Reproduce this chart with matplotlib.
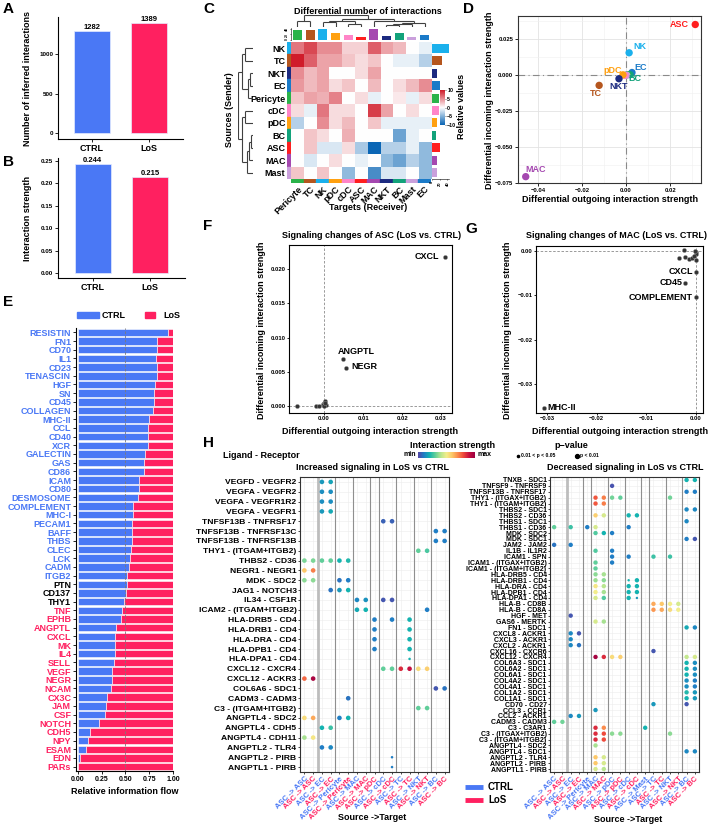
import numpy as np
import matplotlib
matplotlib.use("Agg")
import matplotlib.pyplot as plt
from matplotlib.colors import LinearSegmentedColormap
from matplotlib.patches import Rectangle

plt.rcParams['font.family'] = ['Liberation Sans', 'DejaVu Sans']
plt.rcParams['font.weight'] = 'bold'
plt.rcParams['axes.linewidth'] = 0.8

W, H = 708, 826
BLUE = '#4a78f5'
RED = '#ff2060'
MINUS = '\u2212'

# ---------------- data ----------------
groups = ['CTRL', 'LoS']
n_interactions = [1282, 1389]
strength = [0.244, 0.215]

src_types = ['NK', 'TC', 'NKT', 'EC', 'Pericyte', 'cDC', 'pDC', 'BC', 'ASC', 'MAC', 'Mast']
tgt_types = ['Pericyte', 'TC', 'NK', 'pDC', 'cDC', 'ASC', 'MAC', 'NKT', 'BC', 'Mast', 'EC']
diff_counts = [
    [6, 8, 5, 5, 2, 2, 7, 4, 3, 0, -1],
    [10, 7, 4, 4, 2.5, 1.5, 2.5, 0, -1, -1, -3],
    [5, 3, 4, 0, 0, 1.5, 4, 0, 0, 0, 0],
    [4.5, 3, 4, 1.5, 2.5, 0, 3, 0, 1.5, 3, 5],
    [2.5, 4, 3.5, 5.5, 0, 1.5, -1, 0, 1, -1, 1.5],
    [1.5, -1, 6, 1.5, 1.5, 0, 8.5, 4, 0, 1.5, 0],
    [-3, 0, 5, 1.5, 3, 0, 2.5, -1, -1, -1, -1],
    [0, 2.5, 1.5, 0, 3.5, 0, 0, 0, -6, -1, 0],
    [0, 2.5, -1.5, -1.5, 1.5, -3.5, -10, -3, -3, -1, -4.5],
    [0, -1.5, 0, 1.5, 0, -1, 0, -4.5, -6, -3, -4.5],
    [2.5, 0, 2.5, 0, -4.5, 0, -7.5, -1.5, -1.5, 0, -4.5],
]
col_sums = [34, 34, 37, 23, 16, 9, 40, 14, 23, 11, 18]
row_sums = [44, 27, 13, 20, 17, 19, 14, 11, 20, 13, 14]
cell_colors = {'NK': '#1ab0ec', 'TC': '#b5561e', 'NKT': '#1c2a80', 'EC': '#1a7ac8',
               'Pericyte': '#2ab34a', 'cDC': '#ff85c8', 'pDC': '#ffa010', 'BC': '#12a27a',
               'ASC': '#ff1f1f', 'MAC': '#a548b0', 'Mast': '#caa0dc'}
row_tree = ((('NK', 'TC', 0.55), (('NKT', 'EC', 0.2), 'Pericyte', 0.32), 0.75),
            (('cDC', 'pDC', 0.55), ((('BC', 'ASC', 0.15), 'MAC', 0.25), 'Mast', 0.38), 0.72), 1.0)
col_tree = (('Pericyte', 'TC', 0.5),
            ((('NK', 'pDC', 0.4), ('cDC', 'ASC', 0.3), 0.55),
             ('MAC', ((('NKT', 'BC', 0.15), 'Mast', 0.25), 'EC', 0.38), 0.5), 0.68), 1.0)

d_names = ['ASC', 'NK', 'EC', 'BC', 'Pericyte', 'Mast', 'cDC', 'pDC', 'NKT', 'TC', 'MAC']
d_out = [0.0314, 0.0014, 0.0027, 0.0018, 0.0006, 0.0003, -0.0005, -0.0014, -0.0032, -0.0122, -0.0455]
d_in = [0.0349, 0.0153, 0.0016, 0.0002, 0.0001, -0.0002, -0.0004, 0.0, -0.0027, -0.0073, -0.0706]
d_labeled = ['ASC', 'NK', 'EC', 'BC', 'pDC', 'NKT', 'TC', 'MAC']

flow_names = ['RESISTIN', 'FN1', 'CD70', 'IL1', 'CD23', 'TENASCIN', 'HGF', 'SN', 'CD45', 'COLLAGEN',
              'MHC-II', 'CCL', 'CD40', 'XCR', 'GALECTIN', 'GAS', 'CD86', 'ICAM', 'CD80', 'DESMOSOME',
              'COMPLEMENT', 'MHC-I', 'PECAM1', 'BAFF', 'THBS', 'CLEC', 'LCK', 'CADM', 'ITGB2', 'PTN',
              'CD137', 'THY1', 'TNF', 'EPHB', 'ANGPTL', 'CXCL', 'MK', 'IL4', 'SELL', 'VEGF',
              'NEGR', 'NCAM', 'CX3C', 'JAM', 'CSF', 'NOTCH', 'CDH5', 'NPY', 'ESAM', 'EDN', 'PARs']
flow_ctrl = [0.946, 0.83, 0.83, 0.82, 0.83, 0.83, 0.81, 0.80, 0.80, 0.79,
             0.75, 0.74, 0.74, 0.74, 0.71, 0.70, 0.70, 0.64, 0.64, 0.63,
             0.58, 0.58, 0.57, 0.57, 0.57, 0.556, 0.545, 0.534, 0.52, 0.516,
             0.505, 0.487, 0.46, 0.45, 0.40, 0.39, 0.39, 0.39, 0.38, 0.354,
             0.354, 0.347, 0.31, 0.30, 0.28, 0.22, 0.126, 0.105, 0.083, 0.02, 0.0]
flow_group = ['CTRL'] * 29 + ['none'] * 3 + ['LoS'] * 19

asc_names = ['CXCL', 'ANGPTL', 'NEGR']
asc_out = [0.0309, 0.0049, 0.0056]
asc_in = [0.0218, 0.0069, 0.0056]
asc_rest_out = [-0.0069, -0.002, -0.0013, -0.0004, 0.0, 0.0002, 0.0004, -0.0002, 0.0001, 0.0003]
asc_rest_in = [0.0, 0.0, 0.0, 0.0003, 0.0005, 0.0007, 0.0002, 0.0001, 0.0, 0.0004]

mac_names = ['CXCL', 'CD45', 'COMPLEMENT', 'MHC-II']
mac_out = [0.0, -0.0022, 0.0, -0.0306]
mac_in = [-0.0047, -0.0072, -0.0103, -0.0353]
mac_rest_out = [-0.0025, -0.0035, -0.0022, -0.0015, -0.0008, 0.0, 0.0, -0.0003, 0.0, -0.0005]
mac_rest_in = [0.0002, -0.0015, -0.0013, -0.0018, -0.0016, -0.0003, -0.0007, -0.0001, -0.002, -0.0012]

inc_targets = ['ASC', 'ASC', 'EC', 'EC', 'Pericyte', 'Pericyte', 'MAC', 'MAC', 'pDC',
               'cDC', 'cDC', 'TC', 'TC', 'NKT', 'NKT', 'BC', 'BC']
inc_sets = ['CTRL', 'LoS', 'CTRL', 'LoS', 'CTRL', 'LoS', 'CTRL', 'LoS', 'LoS',
            'CTRL', 'LoS', 'CTRL', 'LoS', 'CTRL', 'LoS', 'CTRL', 'LoS']
inc_pairs = ['VEGFD - VEGFR2', 'VEGFA - VEGFR2', 'VEGFA - VEGFR1R2', 'VEGFA - VEGFR1',
             'TNFSF13B - TNFRSF17', 'TNFSF13B - TNFRSF13C', 'TNFSF13B - TNFRSF13B',
             'THY1 - (ITGAM+ITGB2)', 'THBS2 - CD36', 'NEGR1 - NEGR1', 'MDK - SDC2', 'JAG1 - NOTCH3',
             'IL34 - CSF1R', 'ICAM2 - (ITGAM+ITGB2)', 'HLA-DRB5 - CD4', 'HLA-DRB1 - CD4',
             'HLA-DRA - CD4', 'HLA-DPB1 - CD4', 'HLA-DPA1 - CD4', 'CXCL12 - CXCR4',
             'CXCL12 - ACKR3', 'COL6A6 - SDC1', 'CADM3 - CADM3', 'C3 - (ITGAM+ITGB2)',
             'ANGPTL4 - SDC2', 'ANGPTL4 - CDH5', 'ANGPTL4 - CDH11', 'ANGPTL2 - TLR4',
             'ANGPTL2 - PIRB', 'ANGPTL1 - PIRB']
# (column, scaled strength) per ligand-receptor pair
inc_dots = [
    [(3, .15), (4, .17)], [(3, .13), (4, .13)], [(3, .13), (4, .13)], [(3, .15), (4, .18)],
    [(10, .05), (11, .05)], [(16, .1), (17, .1)], [(16, .1), (17, .1)], [(14, .3), (15, .27)],
    [(1, .33), (2, .33), (3, .3), (4, .3), (5, .2), (6, .22)], [(1, .6), (2, .72)],
    [(1, .35), (2, .35), (5, .08), (6, .1)], [(4, .08), (5, .15), (6, .2)],
    [(7, .12), (8, .14), (10, .03), (11, .03)], [(7, .18), (8, .2), (15, .1)],
    [(9, .1), (11, .1), (13, .2)], [(9, .1), (13, .2)], [(9, .1), (13, .2)], [(9, .1), (13, .2)],
    [(13, .2)], [(10, .3), (11, .3), (12, .85), (13, .9), (14, .55), (15, .58)],
    [(1, .75), (2, .97)], [(16, .03), (17, .08)], [(6, .08)], [(14, .3), (15, .3)],
    [(1, .55), (2, .65), (5, .1), (6, .2)], [(3, .2), (4, .25)], [(1, .38), (2, .52)],
    [(3, .1), (4, .12)], [(11, .1)], [(11, .1)]]
inc_small = [('HLA-DPA1 - CD4', 13), ('ANGPTL2 - PIRB', 11), ('ANGPTL1 - PIRB', 11)]

dec_targets = ['ASC', 'ASC', 'EC', 'EC', 'Pericyte', 'MAC', 'MAC', 'pDC', 'pDC',
               'cDC', 'cDC', 'Mast', 'TC', 'TC', 'NKT', 'NKT', 'BC', 'BC']
dec_sets = ['CTRL', 'LoS', 'CTRL', 'LoS', 'CTRL', 'CTRL', 'LoS', 'CTRL', 'LoS',
            'CTRL', 'LoS', 'CTRL', 'CTRL', 'LoS', 'CTRL', 'LoS', 'CTRL', 'LoS']
dec_pairs = ['TNXB - SDC1', 'TNFSF9 - TNFRSF9', 'TNFSF13B - TNFRSF17', 'THY1 - (ITGAX+ITGB2)',
             'THY1 - (ITGAM+ITGB2)', 'THBS2 - SDC1', 'THBS2 - CD36', 'THBS1 - SDC1', 'THBS1 - CD36',
             'MDK - SDC2', 'MDK - SDC1', 'JAM2 - JAM2', 'IL1B - IL1R2', 'ICAM1 - SPN',
             'ICAM1 - (ITGAX+ITGB2)', 'ICAM1 - (ITGAM+ITGB2)', 'HLA-DRB5 - CD4', 'HLA-DRB1 - CD4',
             'HLA-DRA - CD4', 'HLA-DPB1 - CD4', 'HLA-DPA1 - CD4', 'HLA-B - CD8B', 'HLA-B - CD8A',
             'HGF - MET', 'GAS6 - MERTK', 'FN1 - SDC1', 'CXCL8 - ACKR1', 'CXCL3 - ACKR1',
             'CXCL2 - ACKR1', 'CXCL16 - CXCR6', 'CXCL12 - CXCR4', 'COL6A3 - SDC1', 'COL6A2 - SDC1',
             'COL6A1 - SDC1', 'COL4A2 - SDC1', 'COL4A1 - SDC1', 'COL1A2 - SDC1', 'COL1A1 - SDC1',
             'CD70 - CD27', 'CCL3 - CCR1', 'CCL2 - ACKR1', 'CADM3 - CADM3', 'C3 - C3AR1',
             'C3 - (ITGAX+ITGB2)', 'C3 - (ITGAM+ITGB2)', 'ANGPTL4 - SDC2', 'ANGPTL4 - SDC1',
             'ANGPTL2 - TLR4', 'ANGPTL2 - PIRB', 'ANGPTL1 - PIRB']
dec_dots = [
    [(17, .2), (18, .2)], [(8, .02)], [(17, .1), (18, .1)],
    [(6, .78), (7, .72), (8, .32), (9, .3), (15, .32)], [(6, .78), (7, .72)],
    [(17, .12), (18, .12)], [(6, .58), (7, .45), (10, .2), (11, .2)], [(17, .12)],
    [(1, .3), (3, .25), (5, .1), (6, .45), (10, .1)], [(6, .28), (7, .2), (8, .1)],
    [(17, .1), (18, .03)], [(1, .08), (3, .1)], [(6, .28), (8, .1)],
    [(8, .1), (10, .1), (13, .25), (15, .25)], [(6, .3), (8, .1)], [(6, .3)],
    [(6, .35), (7, .38)], [(6, .37), (7, .35), (10, .2), (11, .2)],
    [(6, .52), (7, .4), (10, .2), (11, .2)], [(6, .5), (7, .38), (10, .2), (11, .2)],
    [(6, .45), (7, .28), (10, .2), (11, .15)], [(13, .65), (14, .6), (15, .5), (16, .45)],
    [(13, .68), (14, .65), (15, .55), (16, .5)], [(3, .03)], [(6, .45), (7, .38)],
    [(17, .18), (18, .12)], [(3, .12), (4, .03)], [(3, .12)], [(3, .12), (4, .08)], [(13, .03)],
    [(6, .98), (7, .85), (8, .55), (9, .58), (17, .42), (18, .45)],
    [(17, .2), (18, .13)], [(17, .2), (18, .13)], [(17, .2), (18, .13)], [(17, .13), (18, .1)],
    [(17, .13), (18, .1)], [(17, .22), (18, .15)], [(17, .2), (18, .15)], [(13, .15), (17, .03)],
    [(6, .15)], [(3, .12), (4, .15)], [(1, .3), (2, .32)], [(6, .85), (7, .7), (12, .2)],
    [(6, .85), (7, .8), (8, .35), (9, .35), (15, .35)], [(6, .85), (7, .8)], [(6, .38)],
    [(17, .12), (18, .12)], [(6, .6), (7, .45)], [(6, .6), (7, .45)], [(6, .45), (7, .4)]]
dec_small = [('HLA-DRB1 - CD4', 10), ('HLA-DPA1 - CD4', 11)]

# ---------------- helpers ----------------
fig = plt.figure(figsize=(W / 100, H / 100), dpi=100)


def add_ax(l, t, r, b, **kw):
    return fig.add_axes([l / W, 1 - b / H, (r - l) / W, (b - t) / H], **kw)


ov = fig.add_axes([0, 0, 1, 1], zorder=20)
ov.set_xlim(0, W)
ov.set_ylim(H, 0)
ov.axis('off')
ov.patch.set_alpha(0)


def txt(x, y, s, **kw):
    kw.setdefault('ha', 'center')
    kw.setdefault('va', 'center')
    kw.setdefault('fontsize', 6.5)
    kw.setdefault('fontweight', 'bold')
    ov.text(x, y, s, **kw)


def style_ticks(ax, size=4.5):
    ax.tick_params(length=2, width=0.6, labelsize=size, pad=1.5)


for lab, x, y in [('A', 3, 2), ('B', 3, 155), ('C', 203, 2), ('D', 463, 2),
                  ('E', 3, 295), ('F', 203, 219), ('G', 465, 222), ('H', 203, 436)]:
    txt(x, y, lab, fontsize=11, ha='left', va='top')

# ---------------- A / B ----------------
for ax_box, vals, lim, ticks, fmt, ylab, yc in [
        ((58, 17, 183, 139), n_interactions, (-70, 1460), [0, 500, 1000], '{:d}',
         'Number of inferred interactions', 78),
        ((58, 158, 185, 278), strength, (-0.011, 0.2567), [0, .05, .1, .15, .2, .25], '{:.3f}',
         'Interaction strength', 218)]:
    ax = add_ax(*ax_box)
    ax.bar([1, 2], vals, width=0.62, color=[BLUE, RED], edgecolor='#e4ebff', lw=0.5)
    ax.set_xlim(0.4, 2.6)
    ax.set_ylim(*lim)
    ax.set_yticks(ticks)
    if fmt == '{:d}':
        ax.set_yticklabels([str(t) for t in ticks])
        for i, v in enumerate(vals):
            ax.text(i + 1, v, str(v), ha='center', va='bottom', fontsize=5.5)
    else:
        ax.set_yticklabels(['%.2f' % t for t in ticks])
        for i, v in enumerate(vals):
            ax.text(i + 1, v, '%.3f' % v, ha='center', va='bottom', fontsize=5.5)
    ax.set_xticks([1, 2])
    ax.set_xticklabels(groups, fontsize=6.5)
    for s in ['top', 'right']:
        ax.spines[s].set_visible(False)
    style_ticks(ax)
    ax.tick_params(axis='x', labelsize=6.5)
    txt(28, yc, ylab, rotation=90)

# ---------------- C ----------------
cmapC = LinearSegmentedColormap.from_list('rb', ['#0b66b5', '#ffffff', '#d01c2a'])
axC = add_ax(291, 42, 431, 179)
axC.imshow(np.array(diff_counts), cmap=cmapC, vmin=-10, vmax=10, aspect='auto')
axC.set_xticks(range(len(tgt_types)))
axC.set_xticklabels(tgt_types, rotation=45, ha='right', rotation_mode='anchor', fontsize=6.5)
axC.set_yticks(range(len(src_types)))
axC.set_yticklabels(src_types, fontsize=6.5)
axC.tick_params(length=0, pad=4)
for s in axC.spines.values():
    s.set_visible(False)

axRS = add_ax(287, 42, 291, 179)
for i, n in enumerate(src_types):
    axRS.add_patch(Rectangle((0, i - 0.5), 1, 1, color=cell_colors[n]))
axRS.set_xlim(0, 1)
axRS.set_ylim(10.5, -0.5)
axRS.axis('off')
axCS = add_ax(291, 179, 431, 183)
for i, n in enumerate(tgt_types):
    axCS.add_patch(Rectangle((i - 0.5, 0), 1, 1, color=cell_colors[n]))
axCS.set_xlim(-0.5, 10.5)
axCS.set_ylim(0, 1)
axCS.axis('off')

axTop = add_ax(291, 28, 431, 40)
axTop.bar(range(len(tgt_types)), col_sums, width=0.72, color=[cell_colors[n] for n in tgt_types])
axTop.set_xlim(-0.5, 10.5)
axTop.set_ylim(0, 42)
axTop.set_xticks([])
axTop.set_yticks([0, 20, 40])
axTop.tick_params(axis='y', labelsize=2.5, length=1, width=0.4, pad=0.5, labelrotation=90)
for s in ['top', 'right', 'bottom']:
    axTop.spines[s].set_visible(False)
axTop.spines['left'].set_linewidth(0.4)

axRB = add_ax(432, 42, 449, 179)
axRB.barh(range(len(src_types)), row_sums, height=0.72, color=[cell_colors[n] for n in src_types])
axRB.set_ylim(10.5, -0.5)
axRB.set_xlim(0, 44)
axRB.set_yticks([])
axRB.set_xticks([0, 20, 40])
axRB.tick_params(axis='x', labelsize=3, length=1, width=0.4, pad=0.5, labelrotation=90)
for s in ['top', 'right', 'left']:
    axRB.spines[s].set_visible(False)
axRB.spines['bottom'].set_linewidth(0.4)


def draw_tree(ax, node, pos, horizontal):
    if isinstance(node, str):
        return pos[node], 0.0
    a, b, h = node
    pa, ha_ = draw_tree(ax, a, pos, horizontal)
    pb, hb = draw_tree(ax, b, pos, horizontal)
    for p0, h0, p1, h1 in [(pa, ha_, pa, h), (pb, hb, pb, h), (pa, h, pb, h)]:
        if horizontal:
            ax.plot([h0, h1], [p0, p1], color='#404040', lw=0.8, solid_capstyle='butt')
        else:
            ax.plot([p0, p1], [h0, h1], color='#404040', lw=0.8, solid_capstyle='butt')
    return (pa + pb) / 2, h


axRD = add_ax(238, 42, 253, 179)
draw_tree(axRD, row_tree, {n: i for i, n in enumerate(src_types)}, True)
axRD.set_xlim(1.02, 0)
axRD.set_ylim(10.5, -0.5)
axRD.axis('off')
axCD = add_ax(291, 15, 431, 27)
draw_tree(axCD, col_tree, {n: i for i, n in enumerate(tgt_types)}, False)
axCD.set_xlim(-0.5, 10.5)
axCD.set_ylim(0, 1.03)
axCD.axis('off')

axCb = add_ax(440, 90, 445, 125)
axCb.imshow(np.linspace(10, -10, 100)[:, None], cmap=cmapC, vmin=-10, vmax=10,
            aspect='auto', extent=[0, 1, -10, 10])
axCb.set_xticks([])
axCb.yaxis.tick_right()
axCb.set_yticks([10, 5, 0, -5, -10])
axCb.set_yticklabels(['10', '5', '0', MINUS + '5', MINUS + '10'])
axCb.tick_params(axis='y', labelsize=3.8, length=1, width=0.4, pad=0.6)
for s in axCb.spines.values():
    s.set_visible(False)
txt(461, 106, 'Relative values', rotation=90)
txt(368, 11, 'Differential number of interactions')
txt(229, 110, 'Sources (Sender)', rotation=90)
txt(368, 208, 'Targets (Receiver)')

# ---------------- D ----------------
axD = add_ax(518, 16, 701, 183)
axD.set_xlim(-0.049, 0.034)
axD.set_ylim(-0.0737, 0.0408)
axD.set_xticks([-0.04, -0.02, 0, 0.02])
axD.set_xticklabels([MINUS + '0.04', MINUS + '0.02', '0.00', '0.02'])
axD.set_yticks([-0.075, -0.05, -0.025, 0, 0.025])
axD.set_yticklabels([MINUS + '0.075', MINUS + '0.050', MINUS + '0.025', '0.000', '0.025'])
axD.set_xticks([-0.03, -0.01, 0.01, 0.03], minor=True)
axD.set_yticks([-0.0625, -0.0375, -0.0125, 0.0125, 0.0375], minor=True)
axD.grid(which='major', color='#e3e3e3', lw=0.6)
axD.grid(which='minor', color='#f0f0f0', lw=0.4)
axD.set_axisbelow(True)
style_ticks(axD, 4.2)
axD.tick_params(which='minor', length=0)
for s in axD.spines.values():
    s.set_color('#333333')
axD.axhline(0, color='#8a8a8a', lw=0.8, dashes=(6, 3, 1, 3), zorder=1)
axD.axvline(0, color='#8a8a8a', lw=0.8, dashes=(6, 3, 1, 3), zorder=1)
axD.scatter(d_out, d_in, s=28, c=[cell_colors[n] for n in d_names], zorder=3, edgecolors='none')
d_offsets = {'ASC': (-6, 0, 'right'), 'NK': (4, 6, 'left'), 'EC': (2, 5, 'left'),
             'BC': (-2, -4, 'left'), 'pDC': (-1, 4, 'right'), 'NKT': (0, -8, 'center'),
             'TC': (-3, -8, 'center'), 'MAC': (0, 7, 'left')}
for n, x, y in zip(d_names, d_out, d_in):
    if n in d_labeled:
        dx, dy, ha = d_offsets[n]
        axD.annotate(n, (x, y), xytext=(dx, dy), textcoords='offset pixels', ha=ha, va='center',
                     fontsize=6.5, color=cell_colors[n])
txt(490, 100, 'Differential incoming interaction strength', rotation=90)
txt(610, 200, 'Differential outgoing interaction strength')

# ---------------- E ----------------
axE = add_ax(76, 328, 173, 771)
yy = np.arange(len(flow_names))
ctrl = np.array(flow_ctrl)
axE.barh(yy, ctrl, height=0.86, color=BLUE, edgecolor='white', lw=0.4)
axE.barh(yy, 1 - ctrl, left=ctrl, height=0.86, color=RED, edgecolor='white', lw=0.4)
axE.axvline(0.5, color='#7a7a7a', lw=0.6, ls=(0, (3, 2)))
axE.set_ylim(len(flow_names) - 0.5, -0.5)
axE.set_xlim(-0.02, 1.0)
axE.set_yticks(yy)
axE.set_yticklabels(flow_names, fontsize=6.5)
grp_col = {'CTRL': BLUE, 'none': 'black', 'LoS': RED}
for t, g in zip(axE.get_yticklabels(), flow_group):
    t.set_color(grp_col[g])
axE.set_xticks([0, 0.25, 0.5, 0.75, 1.0])
axE.set_xticklabels(['0.00', '0.25', '0.50', '0.75', '1.00'])
style_ticks(axE, 5)
axE.tick_params(axis='y', labelsize=6.5)
for s in ['top', 'right']:
    axE.spines[s].set_visible(False)
txt(125, 791, 'Relative information flow')
ov.add_patch(Rectangle((77, 312), 22, 6, color=BLUE))
txt(102, 315, 'CTRL', ha='left')
ov.add_patch(Rectangle((145, 312), 10, 6, color=RED))
txt(163, 315, 'LoS', ha='left')

# ---------------- F / G ----------------
def signal_panel(box, rest_x, rest_y, names, xs, ys, xlim, ylim, xt, yt, xfmt, yfmt, offs):
    ax = add_ax(*box)
    ax.axhline(0, color='#8a8a8a', lw=0.6, ls=(0, (3, 2)), zorder=1)
    ax.axvline(0, color='#8a8a8a', lw=0.6, ls=(0, (3, 2)), zorder=1)
    ax.scatter(rest_x, rest_y, s=9, c='#333333', edgecolors='#9a9a9a', lw=0.3, zorder=3)
    ax.scatter(xs, ys, s=9, c='#333333', edgecolors='#9a9a9a', lw=0.3, zorder=3)
    for n, x, y in zip(names, xs, ys):
        dx, dy, ha = offs[n]
        ax.annotate(n, (x, y), xytext=(dx, dy), textcoords='offset pixels', ha=ha, va='center',
                    fontsize=6.5)
    ax.set_xlim(*xlim)
    ax.set_ylim(*ylim)
    ax.set_xticks(xt)
    ax.set_xticklabels([xfmt(v) for v in xt])
    ax.set_yticks(yt)
    ax.set_yticklabels([yfmt(v) for v in yt])
    ax.tick_params(length=1.5, width=0.6, labelsize=4.2, pad=1)
    return ax


def fmt(nd):
    return lambda v: ('%.*f' % (nd, v)).replace('-', MINUS) if abs(v) > 1e-12 else '%.*f' % (nd, 0)


signal_panel((289, 245, 452, 413), asc_rest_out, asc_rest_in, asc_names, asc_out, asc_in,
             (-0.009, 0.0328), (-0.001, 0.0235), [0, 0.01, 0.02, 0.03],
             [0, 0.005, 0.01, 0.015, 0.02], fmt(2), fmt(3),
             {'CXCL': (-5, 0, 'right'), 'ANGPTL': (-5, 7, 'left'), 'NEGR': (5, 1, 'left')})
txt(372, 236, 'Signaling changes of ASC (LoS vs. CTRL)')
txt(262, 330, 'Differential incoming interaction strength', rotation=90)
txt(370, 431, 'Differential outgoing interaction strength')

signal_panel((536, 246, 703, 413), mac_rest_out, mac_rest_in, mac_names, mac_out, mac_in,
             (-0.0322, 0.0014), (-0.0365, 0.0011), [-0.03, -0.02, -0.01, 0],
             [-0.03, -0.02, -0.01, 0], fmt(2), fmt(2),
             {'CXCL': (-3, 0, 'right'), 'CD45': (-3, 0, 'right'), 'COMPLEMENT': (-3, -1, 'right'),
              'MHC-II': (3, 0, 'left')})
txt(617, 236, 'Signaling changes of MAC (LoS vs. CTRL)')
txt(508, 330, 'Differential incoming interaction strength', rotation=90)
txt(620, 431, 'Differential outgoing interaction strength')

# ---------------- H ----------------
cmapH = LinearSegmentedColormap.from_list('spec', ['#5348a8', '#1f7fc6', '#14b3b0', '#62cf9a',
                                                   '#b8e68f', '#f3ee8c', '#fdc869', '#fb8c4c',
                                                   '#ef4a3c', '#c8103f', '#9e0142'])


def bubble(box, pairs, dots, small, targets, sets, fs, big_s):
    ax = add_ax(*box)
    ncol, nrow = len(targets), len(pairs)
    ax.set_xlim(0.5, ncol + 0.5)
    ax.set_ylim(nrow + 0.5, 0.5)
    for i in range(1, ncol + 1):
        ax.axvline(i, color='#ececec', lw=0.4, zorder=0)
    for j in range(1, nrow + 1):
        ax.axhline(j, color='#ececec', lw=0.4, zorder=0)
    first = True
    for i in range(1, ncol):
        if targets[i] != targets[i - 1]:
            if first:
                ax.axvline(i + 0.5, color='#bdbdbd', lw=2, zorder=1)
                first = False
            else:
                ax.axvline(i + 0.5, color='#8f8f8f', lw=0.8, zorder=1)
    xs, ys, cs, ss = [], [], [], []
    for r, (name, row) in enumerate(zip(pairs, dots), 1):
        for col, v in row:
            xs.append(col)
            ys.append(r)
            cs.append(v)
            ss.append(big_s * 0.3 if (name, col) in small else big_s)
    ax.scatter(xs, ys, c=cs, s=ss, cmap=cmapH, vmin=0, vmax=1, edgecolors='none', zorder=3)
    ax.set_yticks(range(1, nrow + 1))
    ax.set_yticklabels(pairs, fontsize=fs)
    ax.set_xticks(range(1, ncol + 1))
    ax.set_xticklabels(['ASC -> ' + t for t in targets], rotation=45, ha='right',
                       rotation_mode='anchor', fontsize=5.5)
    for t, s in zip(ax.get_xticklabels(), sets):
        t.set_color(BLUE if s == 'CTRL' else RED)
    ax.tick_params(length=1.5, width=0.5, pad=1)
    for s in ax.spines.values():
        s.set_color('#333333')
    return ax


bubble((300, 477, 449, 772), inc_pairs, inc_dots, inc_small, inc_targets, inc_sets, 6.1, 11)
bubble((550, 477, 699, 772), dec_pairs, dec_dots, dec_small, dec_targets, dec_sets, 5.0, 10)
txt(372, 468, 'Increased signaling in LoS vs CTRL')
txt(625, 468, 'Decreased signaling in LoS vs CTRL')
txt(223, 455, 'Ligand - Receptor', ha='left')
txt(453, 446, 'Interaction strength')
axHb = add_ax(418, 452, 475, 458)
axHb.imshow(np.linspace(0, 1, 100)[None, :], cmap=cmapH, aspect='auto')
axHb.axis('off')
txt(416, 455, 'min', ha='right', fontsize=5)
txt(477, 455, 'max', ha='left', fontsize=5)
txt(571, 446, 'p\u2212value')
ov.scatter([518], [455.5], s=2.5, color='black')
txt(521, 455.5, '0.01 < p < 0.05', ha='left', fontsize=3.6)
ov.scatter([577], [455.5], s=8, color='black')
txt(580, 455.5, 'p < 0.01', ha='left', fontsize=3.6)
ov.plot([465, 483], [787, 787], color=BLUE, lw=3.5, solid_capstyle='butt')
txt(488, 787, 'CTRL', ha='left', fontsize=7)
ov.plot([465, 483], [800, 800], color=RED, lw=3.5, solid_capstyle='butt')
txt(488, 800, 'LoS', ha='left', fontsize=7)
txt(372, 818, 'Source ->Target')
txt(628, 820, 'Source ->Target')

fig.savefig('out.png', dpi=100)
